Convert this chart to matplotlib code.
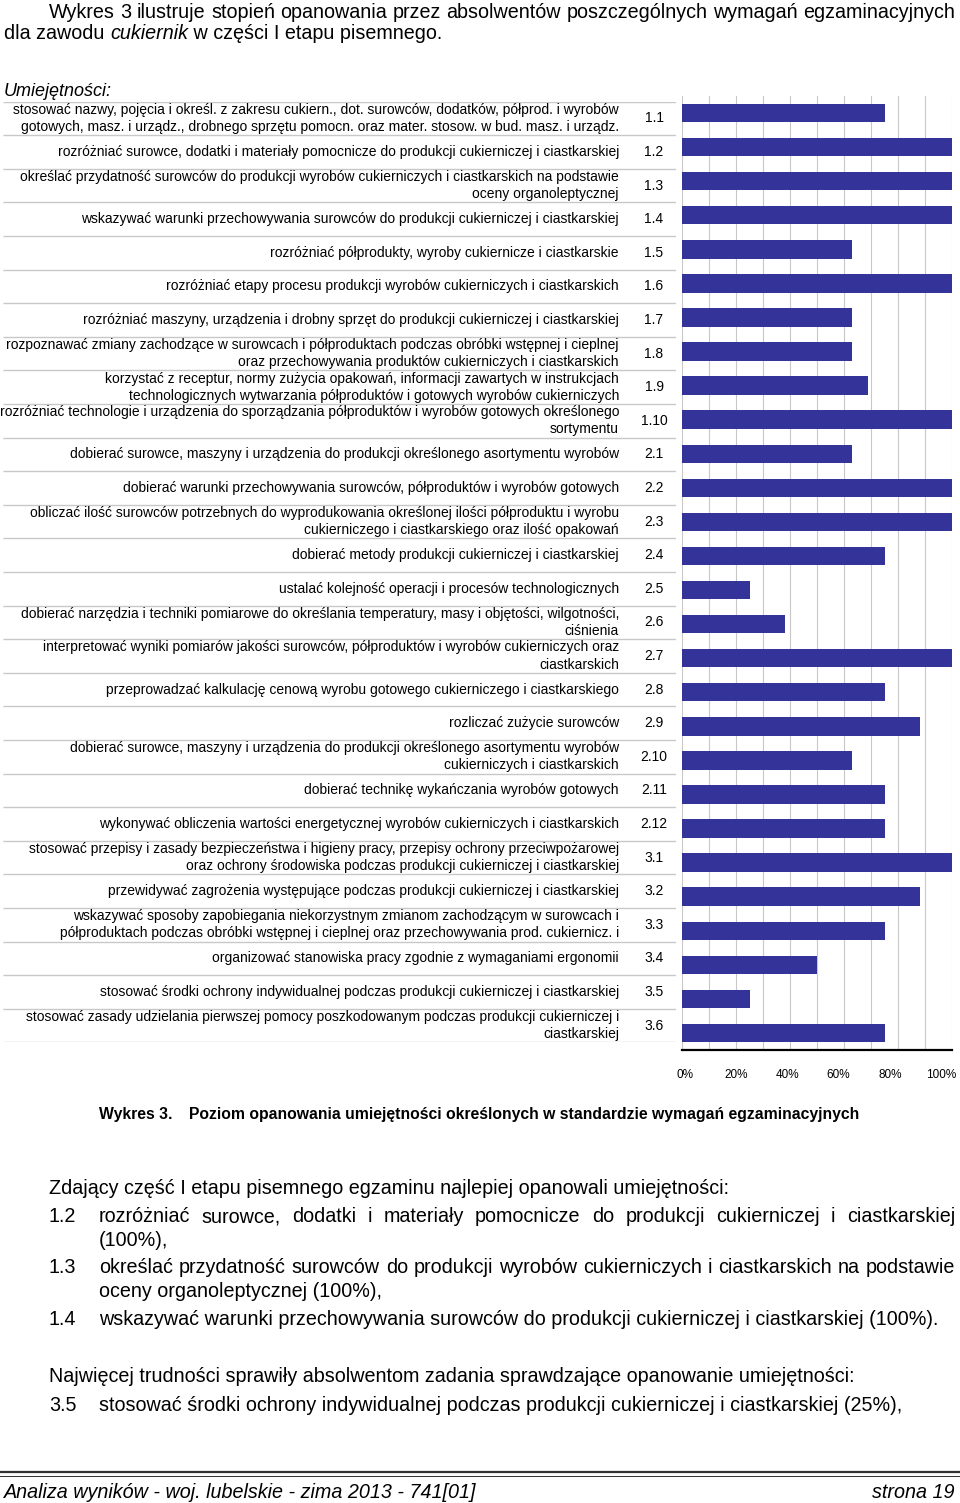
import numpy as np
import matplotlib
matplotlib.use('Agg')
from matplotlib import pyplot as plt
from matplotlib import rcParams
from matplotlib.lines import Line2D

rcParams['font.family'] = ['Liberation Sans', 'DejaVu Sans']

W, H, DPI = 960, 1503, 100

#%% data
codes = ['1.1', '1.2', '1.3', '1.4', '1.5', '1.6', '1.7', '1.8', '1.9', '1.10',
         '2.1', '2.2', '2.3', '2.4', '2.5', '2.6', '2.7', '2.8', '2.9', '2.10',
         '2.11', '2.12', '3.1', '3.2', '3.3', '3.4', '3.5', '3.6']

skills = [
    'stosować nazwy, pojęcia i określ. z zakresu cukiern., dot. surowców, dodatków, półprod. i wyrobów\n'
    'gotowych, masz. i urządz., drobnego sprzętu pomocn. oraz mater. stosow. w bud. masz. i urządz.',
    'rozróżniać surowce, dodatki i materiały pomocnicze do produkcji cukierniczej i ciastkarskiej',
    'określać przydatność surowców do produkcji wyrobów cukierniczych i ciastkarskich na podstawie\n'
    'oceny organoleptycznej',
    'wskazywać warunki przechowywania surowców do produkcji cukierniczej i ciastkarskiej',
    'rozróżniać półprodukty, wyroby cukiernicze i ciastkarskie',
    'rozróżniać etapy procesu produkcji wyrobów cukierniczych i ciastkarskich',
    'rozróżniać maszyny, urządzenia i drobny sprzęt do produkcji cukierniczej i ciastkarskiej',
    'rozpoznawać zmiany zachodzące w surowcach i półproduktach podczas obróbki wstępnej i cieplnej\n'
    'oraz przechowywania produktów cukierniczych i ciastkarskich',
    'korzystać z receptur, normy zużycia opakowań, informacji zawartych w instrukcjach\n'
    'technologicznych wytwarzania półproduktów i gotowych wyrobów cukierniczych',
    'rozróżniać technologie i urządzenia do sporządzania półproduktów i wyrobów gotowych określonego\n'
    'sortymentu',
    'dobierać surowce, maszyny i urządzenia do produkcji określonego asortymentu wyrobów',
    'dobierać warunki przechowywania surowców, półproduktów i wyrobów gotowych',
    'obliczać ilość surowców potrzebnych do wyprodukowania określonej ilości półproduktu i wyrobu\n'
    'cukierniczego i ciastkarskiego oraz ilość opakowań',
    'dobierać metody produkcji cukierniczej i ciastkarskiej',
    'ustalać kolejność operacji i procesów technologicznych',
    'dobierać narzędzia i techniki pomiarowe do określania temperatury, masy i objętości, wilgotności,\n'
    'ciśnienia',
    'interpretować wyniki pomiarów jakości surowców, półproduktów i wyrobów cukierniczych oraz\n'
    'ciastkarskich',
    'przeprowadzać kalkulację cenową wyrobu gotowego cukierniczego i ciastkarskiego',
    'rozliczać zużycie surowców',
    'dobierać surowce, maszyny i urządzenia do produkcji określonego asortymentu wyrobów\n'
    'cukierniczych i ciastkarskich',
    'dobierać technikę wykańczania wyrobów gotowych',
    'wykonywać obliczenia wartości energetycznej wyrobów cukierniczych i ciastkarskich',
    'stosować przepisy i zasady bezpieczeństwa i higieny pracy, przepisy ochrony przeciwpożarowej\n'
    'oraz ochrony środowiska podczas produkcji cukierniczej i ciastkarskiej',
    'przewidywać zagrożenia występujące podczas produkcji cukierniczej i ciastkarskiej',
    'wskazywać sposoby zapobiegania niekorzystnym zmianom zachodzącym w surowcach i\n'
    'półproduktach podczas obróbki wstępnej i cieplnej oraz przechowywania prod. cukiernicz. i',
    'organizować stanowiska pracy zgodnie z wymaganiami ergonomii',
    'stosować środki ochrony indywidualnej podczas produkcji cukierniczej i ciastkarskiej',
    'stosować zasady udzielania pierwszej pomocy poszkodowanym podczas produkcji cukierniczej i\n'
    'ciastkarskiej',
]

values = [75, 100, 100, 100, 63, 100, 63, 63, 69, 100,
          63, 100, 100, 75, 25, 38, 100, 75, 88, 63,
          75, 75, 100, 88, 75, 50, 25, 75]

pct_ticks = [0, 20, 40, 60, 80, 100]

#%% helpers (pixel coords -> figure fraction)
def fx(x):
    return x / W

def fy(y):
    return 1 - y / H

fig = plt.figure(figsize=(W / DPI, H / DPI), dpi=DPI)
rend = fig.canvas.get_renderer()

def _w(s, size, style):
    t = fig.text(0, 0, s, fontsize=size, style=style)
    w = t.get_window_extent(rend).width
    t.remove()
    return w

def adv(s, size, style='normal'):
    # advance width, with x guards so glyph bearings cancel out
    return _w('x' + s + 'x', size, style) - _w('xx', size, style)

def baseline(y, size):
    return fy(y + 0.36 * size * DPI / 72)

def line(s, x0, y, size, style='normal', ha='left'):
    fig.text(fx(x0), baseline(y, size), s, fontsize=size, style=style, va='baseline', ha=ha)

def justified(s, x0, x1, y, size):
    words = s.split(' ')
    extra = (x1 - x0 - adv(s, size)) / (len(words) - 1)
    for i, w in enumerate(words):
        start = adv(' '.join(words[:i]) + ' ', size) if i else 0
        fig.text(fx(x0 + start + i * extra), baseline(y, size), w, fontsize=size, va='baseline')

def runs(parts, x0, y, size):
    x = x0
    for s, st in parts:
        fig.text(fx(x), baseline(y, size), s, fontsize=size, style=st, va='baseline')
        x += adv(s, size, st)

n = len(codes)

#%% bars
ax = fig.add_axes([fx(682), fy(1050), fx(952) - fx(682), (1050 - 96) / H])
ax.barh(np.arange(n), values, height=0.54, color='#333399', zorder=2)
ax.set_xlim(0, 100)
ax.set_ylim(n - 0.5, -0.5)
ax.set_xticks(np.arange(0, 101, 10))
ax.grid(axis='x', color='#c8c8c8', linewidth=0.8, zorder=0)
ax.tick_params(length=0, labelbottom=False, labelleft=False)
for s in ['top', 'right', 'left']:
    ax.spines[s].set_visible(False)
ax.spines['bottom'].set_linewidth(1.6)
ax.spines['bottom'].set_color('k')

# percent labels (placed slightly narrower than the bar scale, as in source)
tax = fig.add_axes([fx(682), fy(1050), fx(952) - fx(682), (1050 - 96) / H], frameon=False)
tax.set_xlim(-(685 - 682) / 2.56, 100 + (952 - 941) / 2.56)
tax.set_xticks(pct_ticks)
tax.set_xticklabels([f'{p}%' for p in pct_ticks], fontsize=8.5)
tax.tick_params(length=0, pad=14)
tax.set_yticks([])

#%% label table
lax = fig.add_axes([0, fy(1042.3), fx(676), (1042.3 - 101.7) / H])
lax.set_xlim(0, 676)
lax.set_ylim(n, 0)
lax.axis('off')
lax.hlines(np.arange(n + 1), 3, 676, color='#c8c8c8', linewidth=1.0)
for i, (c, lab) in enumerate(zip(codes, skills)):
    lax.text(619, i + 0.5, lab, ha='right', va='center', fontsize=10, linespacing=1.3)
    lax.text(654, i + 0.5, c, ha='center', va='center', fontsize=10)

#%% page text
fs = 14.2
justified('Wykres 3 ilustruje stopień opanowania przez absolwentów poszczególnych wymagań egzaminacyjnych',
          49, 955, 11, fs)
runs([('dla zawodu ', 'normal'), ('cukiernik', 'italic'), (' w części I etapu pisemnego.', 'normal')],
     4, 32, fs)
line('Umiejętności:', 4, 90, 13, 'italic')

line('Wykres 3.', 99, 1113, 11.3)
line('Poziom opanowania umiejętności określonych w standardzie wymagań egzaminacyjnych', 189, 1113, 11.3)
for t in fig.texts[-2:]:
    t.set_weight('bold')

line('Zdający część I etapu pisemnego egzaminu najlepiej opanowali umiejętności:', 49, 1187, fs)
line('1.2', 49, 1215, fs)
justified('rozróżniać surowce, dodatki i materiały pomocnicze do produkcji cukierniczej i ciastkarskiej',
          99, 955, 1215, fs)
line('(100%),', 99, 1239, fs)
line('1.3', 49, 1266, fs)
justified('określać przydatność surowców do produkcji wyrobów cukierniczych i ciastkarskich na podstawie',
          99, 955, 1266, fs)
line('oceny organoleptycznej (100%),', 99, 1290, fs)
line('1.4', 49, 1318, fs)
line('wskazywać warunki przechowywania surowców do produkcji cukierniczej i ciastkarskiej (100%).',
     99, 1318, fs)
line('Najwięcej trudności sprawiły absolwentom zadania sprawdzające opanowanie umiejętności:', 49, 1375, fs)
line('3.5', 49, 1404, fs)
line('stosować środki ochrony indywidualnej podczas produkcji cukierniczej i ciastkarskiej (25%),',
     99, 1404, fs)

# footer
fig.add_artist(Line2D([0, 1], [fy(1472), fy(1472)], color='#333333', linewidth=1.6))
fig.add_artist(Line2D([0, 1], [fy(1475.5), fy(1475.5)], color='#333333', linewidth=0.7))
line('Analiza wyników - woj. lubelskie - zima 2013 - 741[01]', 4, 1491, fs, 'italic')
line('strona 19', 955, 1491, fs, 'italic', ha='right')

fig.savefig('out.png', dpi=DPI)
